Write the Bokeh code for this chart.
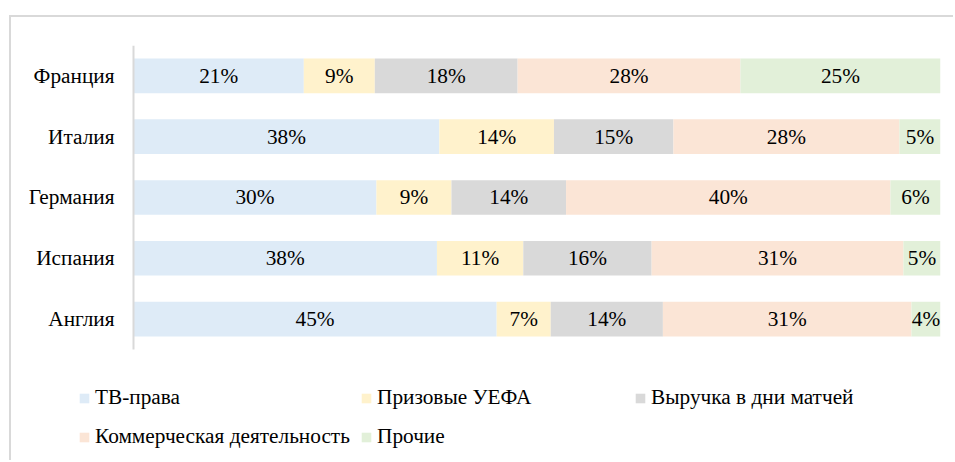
from bokeh.plotting import figure
from bokeh.models import ColumnDataSource, Range1d, Legend, LegendItem, FixedTicker
from bokeh.core.properties import value
from bokeh.embed import file_html
from bokeh.resources import INLINE

countries = ["Англия", "Испания", "Германия", "Италия", "Франция"]
series_names = ["ТВ-права", "Призовые УЕФА", "Выручка в дни матчей",
                "Коммерческая деятельность", "Прочие"]
# shares in % (labels are these values rounded)
tv_rights = [45.0, 37.6, 30.1, 37.9, 21.1]
uefa_prizes = [6.7, 10.7, 9.3, 14.2, 8.8]
matchday = [13.9, 15.9, 14.2, 14.8, 17.7]
commercial = [30.8, 31.2, 40.2, 28.0, 27.6]
other = [3.6, 4.6, 6.2, 5.1, 24.8]
colors = ["#DEEBF7", "#FFF2CC", "#D9D9D9", "#FBE5D6", "#E2F0D9"]

series = [tv_rights, uefa_prizes, matchday, commercial, other]
ypos = [i + 0.5 for i in range(len(countries))]

FONT = "Liberation Serif"
FS = "21.3px"

p = figure(width=944, height=445, output_backend="svg", toolbar_location=None,
           x_range=Range1d(-0.1512, 1), y_range=Range1d(-1.859, len(countries)),
           min_border_left=0, min_border_right=15, min_border_top=28,
           min_border_bottom=0)
p.outline_line_color = None
p.xaxis.visible = False
p.xgrid.visible = False
p.ygrid.visible = False
ax = p.yaxis[0]
ax.fixed_location = 0
ax.bounds = (0, len(countries))
ax.ticker = FixedTicker(ticks=ypos)
ax.major_label_overrides = {y: c for y, c in zip(ypos, countries)}
ax.axis_line_color = "#D9D9D9"
ax.axis_line_width = 2
ax.major_tick_line_color = None
ax.minor_tick_line_color = None
ax.major_label_text_font = FONT
ax.major_label_text_font_size = FS
ax.major_label_text_color = "#000000"
ax.major_label_standoff = 13
p.styles = {"border-top": "2px solid #D9D9D9", "border-left": "2px solid #D9D9D9",
            "margin-top": "15px", "margin-left": "9px"}

totals = [sum(s[i] for s in series) for i in range(len(countries))]
cum = [0.0] * len(countries)
renderers = []
for name, vals, col in zip(series_names, series, colors):
    left = [cum[i] for i in range(len(countries))]
    right = [cum[i] + vals[i] / totals[i] for i in range(len(countries))]
    cum = right
    src = ColumnDataSource(dict(
        y=ypos, left=left, right=right,
        mid=[(l + r) / 2 for l, r in zip(left, right)],
        lbl=[f"{round(v)}%" for v in vals]))
    r = p.hbar(y="y", left="left", right="right", height=0.57, source=src,
               fill_color=col, line_color=None)
    p.text(x="mid", y="y", text="lbl", source=src, text_align="center",
           text_baseline="middle", text_font=value(FONT), text_font_size=FS,
           text_color="#000000")
    renderers.append(r)

# legend boxes: screen offsets from the frame's bottom-left corner
leg_pos = [(67, 52), (349, 52), (623, 52), (67, 13), (349, 13)]
for name, r, pos in zip(series_names, renderers, leg_pos):
    lg = Legend(items=[LegendItem(label=name, renderers=[r])], location=pos,
                padding=0, margin=0, spacing=0, glyph_width=12, glyph_height=12,
                label_standoff=5, label_text_font=FONT, label_text_font_size=FS,
                label_text_color="#000000", background_fill_alpha=0,
                border_line_color=None, label_height=24)
    p.add_layout(lg, "center")

open("out.html", "w").write(file_html(p, INLINE))
